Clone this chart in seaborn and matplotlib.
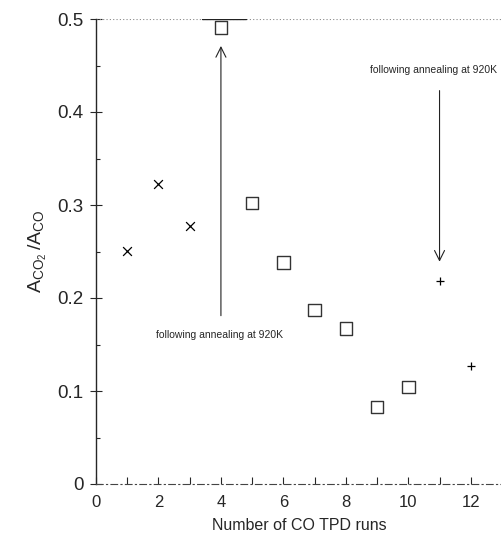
import matplotlib
matplotlib.use("Agg")
import matplotlib.pyplot as plt
import seaborn as sns
import pandas as pd

# Data
runs_before = [1, 2, 3]
ratio_before = [0.251, 0.323, 0.277]
runs_after1 = [4, 5, 6, 7, 8, 9, 10]
ratio_after1 = [0.491, 0.302, 0.238, 0.187, 0.167, 0.083, 0.104]
runs_after2 = [11, 12]
ratio_after2 = [0.218, 0.127]
annot_text = "following annealing at 920K"
xticks = [0, 2, 4, 6, 8, 10, 12]
yticks = [0, 0.1, 0.2, 0.3, 0.4, 0.5]
ytick_labels = ["0", "0.1", "0.2", "0.3", "0.4", "0.5"]

sns.set_style("ticks")
plt.rcParams['font.family'] = ['Liberation Sans', 'DejaVu Sans']

fig = plt.figure(figsize=(5.02, 5.43), dpi=100)
ax = fig.add_axes([96/502, (543-484)/543, (502-96)/502, (484-19)/543])

df1 = pd.DataFrame({"run": runs_before, "ratio": ratio_before})
df2 = pd.DataFrame({"run": runs_after1, "ratio": ratio_after1})
df3 = pd.DataFrame({"run": runs_after2, "ratio": ratio_after2})

sns.scatterplot(data=df1, x="run", y="ratio", marker="x", s=40, color="black",
                linewidth=0.9, ax=ax)
sns.scatterplot(data=df2, x="run", y="ratio", marker="s", s=80, facecolor="none",
                edgecolor="#333333", linewidth=1.0, ax=ax)
sns.scatterplot(data=df3, x="run", y="ratio", marker="+", s=40, color="black",
                linewidth=0.9, ax=ax)

ax.set_xlim(0, 13)
ax.set_ylim(0, 0.5)
ax.set_xticks(xticks)
ax.set_xticklabels([str(t) for t in xticks], fontsize=12)
ax.set_xticks(list(range(1, 13, 2)), minor=True)
ax.set_yticks(yticks)
ax.set_yticklabels(ytick_labels, fontsize=13.5)
ax.set_yticks([0.05, 0.15, 0.25, 0.35, 0.45], minor=True)
ax.tick_params(axis="x", which="both", direction="in", length=5, width=0.8, pad=8)
ax.tick_params(axis="y", which="major", direction="inout", length=8, width=0.8, pad=5)
ax.tick_params(axis="y", which="minor", direction="in", length=3, width=0.8)

ax.spines["right"].set_visible(False)
ax.spines["top"].set_visible(False)
ax.spines["left"].set_linewidth(1.0)
ax.spines["bottom"].set_linewidth(0.8)
ax.spines["bottom"].set_linestyle((0, (6, 3, 1, 3)))
ax.spines["bottom"].set_color("#444444")

# Top border line (dotted, with a solid piece near run 4)
ax.axhline(0.5, xmin=0, xmax=1, color="#888888", linestyle=(0, (1, 2)), linewidth=0.8)
ax.plot([3.4, 4.8], [0.5, 0.5], color="#222222", linewidth=1.0)

ax.set_xlabel("Number of CO TPD runs", fontsize=11.5, labelpad=6)
ax.set_ylabel(r"$\mathregular{A_{CO_2}\,/A_{CO}}$", fontsize=14, labelpad=6)

ax.annotate("", xy=(4, 0.474), xytext=(4, 0.178),
            arrowprops=dict(arrowstyle="->", color="#222222", lw=0.8,
                            mutation_scale=18))
ax.text(3.97, 0.160, annot_text, ha="center", va="center", fontsize=7.5)
ax.annotate("", xy=(11, 0.236), xytext=(11, 0.426),
            arrowprops=dict(arrowstyle="->", color="#222222", lw=0.8,
                            mutation_scale=18))
ax.text(10.8, 0.445, annot_text, ha="center", va="center", fontsize=7.5)

fig.savefig("out.png", dpi=100, facecolor="white")
